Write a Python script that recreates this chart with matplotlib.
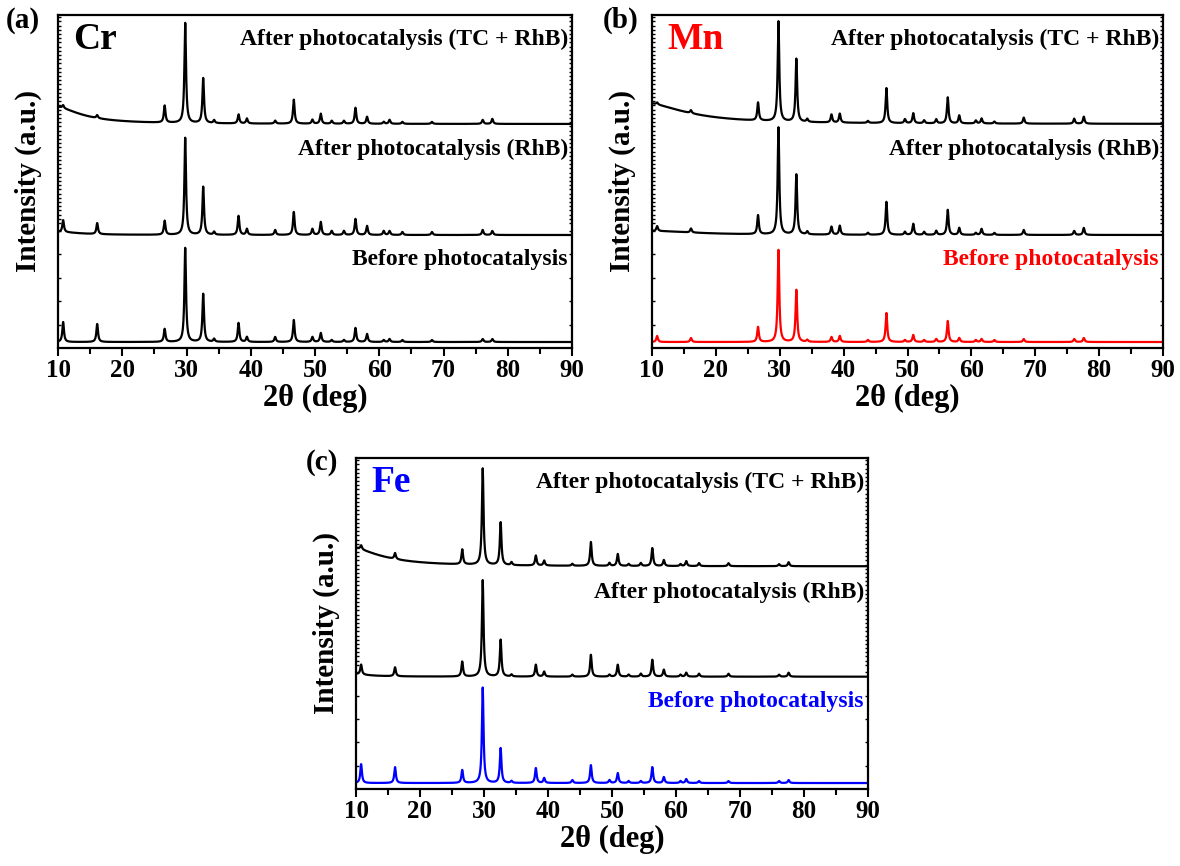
import matplotlib
matplotlib.use("Agg")
import matplotlib.pyplot as plt
import numpy as np

plt.rcParams['font.family'] = ['Liberation Serif', 'DejaVu Serif']
plt.rcParams['font.weight'] = 'bold'

# XRD peak positions (2theta, deg) shared by all patterns
peak_pos = [10.8, 16.1, 26.6, 29.8, 32.6, 34.3, 38.1, 39.4, 43.8, 46.7, 49.6,
            50.9, 52.6, 54.5, 56.3, 58.1, 60.7, 61.6, 63.6, 68.2, 76.1, 77.6]

# peak heights (a.u.)
cr_before = [20, 18, 13, 94, 48, 3, 19, 5, 5, 22, 5, 9, 2, 2, 14, 8, 2, 3, 2, 2, 3, 3]
cr_rhb = [12, 11, 14, 97, 48, 3, 19, 6, 5, 23, 6, 13, 4, 4, 16, 9, 4, 4, 3, 3, 5, 4]
cr_tc = [3, 3, 17, 100, 45, 3, 9, 5, 3, 24, 4, 10, 3, 3, 16, 7, 2, 4, 2, 2, 4, 5]
mn_before = [6, 4, 15, 92, 52, 2, 5, 6, 2, 29, 2, 7, 2, 3, 21, 4, 2, 3, 2, 3, 3, 4]
mn_rhb = [5, 4, 19, 107, 60, 3, 8, 9, 2, 33, 3, 11, 3, 4, 25, 7, 2, 6, 2, 5, 4, 7]
mn_tc = [2, 3, 18, 100, 63, 3, 8, 9, 2, 35, 4, 10, 3, 4, 26, 8, 3, 5, 2, 6, 5, 7]
fe_before = [19, 16, 13, 96, 35, 2, 15, 5, 3, 18, 3, 10, 2, 2, 16, 6, 2, 4, 2, 2, 2, 3]
fe_rhb = [10, 9, 15, 97, 37, 2, 12, 5, 2, 22, 2, 12, 2, 3, 17, 7, 2, 4, 3, 3, 2, 4]
fe_tc = [4, 6, 15, 97, 43, 3, 10, 5, 2, 24, 3, 12, 2, 3, 18, 6, 2, 5, 3, 3, 2, 4]

# broad low-angle background hump: (centre, height, half width)
cr_bg = [(10, 0, 4), (10, 3, 4), (9, 18, 5)]
mn_bg = [(10, 0, 8), (10, 4, 8), (8, 22, 8)]
fe_bg = [(9, 0, 3), (9, 3, 3), (8, 21, 6)]

# vertical offsets of the three stacked patterns
offsets = [6, 113, 224]

labels = ['Before photocatalysis', 'After photocatalysis (RhB)',
          'After photocatalysis (TC + RhB)']

panels = [
    ('(a)', 'Cr', 'black', [cr_before, cr_rhb, cr_tc], cr_bg),
    ('(b)', 'Mn', 'red', [mn_before, mn_rhb, mn_tc], mn_bg),
    ('(c)', 'Fe', 'blue', [fe_before, fe_rhb, fe_tc], fe_bg),
]

two_theta = np.arange(10, 90.01, 0.02)


def lorentz(x, x0, h, w):
    return h * w**2 / ((x - x0)**2 + w**2)


def pattern(heights, bg, offset):
    y = np.full_like(two_theta, float(offset))
    for p, h in zip(peak_pos, heights):
        y += lorentz(two_theta, p, h, 0.15)
    y += lorentz(two_theta, bg[0], bg[1], bg[2])
    return y


fig = plt.figure(figsize=(11.8, 8.66), dpi=100)
ax_rects = [
    [58 / 1180, 1 - 348 / 866, 514 / 1180, 333 / 866],
    [652 / 1180, 1 - 348 / 866, 511 / 1180, 333 / 866],
    [356 / 1180, 1 - 789 / 866, 512 / 1180, 331 / 866],
]
tag_pos = [(6 / 1180, 1 - 20 / 866), (603 / 1180, 1 - 20 / 866), (306 / 1180, 1 - 462 / 866)]

for (tag, elem, col, series, bgs), rect, tp in zip(panels, ax_rects, tag_pos):
    ax = fig.add_axes(rect)
    for i, (heights, bg, off) in enumerate(zip(series, bgs, offsets)):
        c = col if i == 0 else 'black'
        ax.plot(two_theta, pattern(heights, bg, off), color=c, lw=1.6)
    ax.set_xlim(10, 90)
    ax.set_ylim(0, 333)
    ax.set_xticks(np.arange(10, 91, 10))
    ax.set_xticks(np.arange(15, 90, 10), minor=True)
    yt = list(np.arange(23.5, 125, 23.5)) + list(np.arange(125, 333, 4.2))
    ax.set_yticks(yt)
    ax.set_yticklabels([])
    ax.tick_params(axis='x', which='major', direction='out', length=6, width=1.5,
                   labelsize=18, pad=2)
    ax.tick_params(axis='x', which='minor', direction='out', length=4, width=1.5)
    ax.tick_params(axis='y', which='major', direction='in', length=2.5, width=1,
                   left=True, right=True)
    for s in ax.spines.values():
        s.set_linewidth(1.6)
    for lab in ax.get_xticklabels():
        lab.set_fontweight('bold')
    ax.set_xlabel('2θ (deg)', fontsize=22, fontweight='bold', labelpad=1)
    ax.set_ylabel('Intensity (a.u.)', fontsize=21, fontweight='bold', labelpad=8)

    ytxt = [0.265, 0.595, 0.927]
    for i, (lab, yy) in enumerate(zip(labels, ytxt)):
        c = col if i == 0 else 'black'
        ax.text(0.992, yy, lab, transform=ax.transAxes, ha='right', va='center',
                fontsize=17, fontweight='bold', color=c)
    ax.text(0.03, 0.925, elem, transform=ax.transAxes, ha='left', va='center',
            fontsize=27, fontweight='bold', color=col)
    fig.text(tp[0], tp[1], tag, ha='left', va='center', fontsize=21, fontweight='bold')

fig.savefig('out.png', dpi=100)
